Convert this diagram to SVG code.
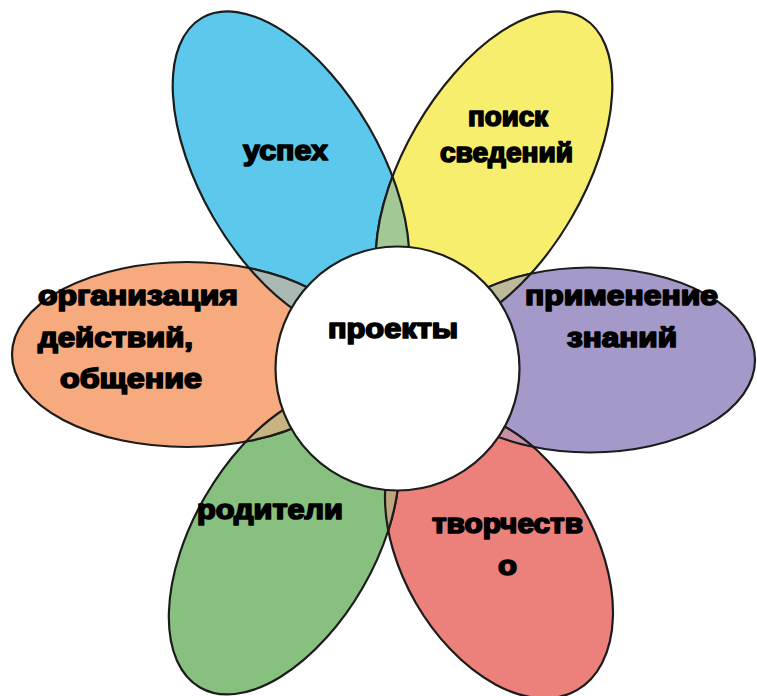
<svg xmlns="http://www.w3.org/2000/svg" xmlns:xlink="http://www.w3.org/1999/xlink" width="757" height="696" viewBox="0 0 757 696">
<style>
  .ol { stroke: #1c1c1c; stroke-width: 2.2; }
  .nofill { fill: none; stroke: #1c1c1c; stroke-width: 2.2; }
  .lbl { font-family: "Liberation Sans", Arial, sans-serif; font-weight: bold; font-size: 27px; fill: #000; stroke: #000; stroke-width: 1.7; stroke-linejoin: round; }
</style>
<defs>
  <ellipse id="e-blue" cx="0" cy="0" rx="178" ry="90" transform="translate(291,172) rotate(60)"/>
  <ellipse id="e-yellow" cx="0" cy="0" rx="178" ry="90" transform="translate(494,172) rotate(-60)"/>
  <ellipse id="e-purple" cx="590" cy="360" rx="165" ry="92.5"/>
  <ellipse id="e-red" cx="0" cy="0" rx="156" ry="96" transform="translate(499,555) rotate(60)"/>
  <ellipse id="e-green" cx="0" cy="0" rx="168" ry="91" transform="translate(284,542) rotate(120)"/>
  <ellipse id="e-orange" cx="187" cy="354.5" rx="175" ry="92.5"/>
  <clipPath id="c-blue"><use xlink:href="#e-blue"/></clipPath>
  <clipPath id="c-yellow"><use xlink:href="#e-yellow"/></clipPath>
  <clipPath id="c-purple"><use xlink:href="#e-purple"/></clipPath>
  <clipPath id="c-red"><use xlink:href="#e-red"/></clipPath>
  <clipPath id="c-green"><use xlink:href="#e-green"/></clipPath>
  <clipPath id="c-orange"><use xlink:href="#e-orange"/></clipPath>
</defs>
<rect width="757" height="696" fill="#ffffff"/>

<g id="petal-uspekh">
  <use xlink:href="#e-blue" class="ol" fill="#5cc9ec"/>
  <text class="lbl" x="243" y="160" textLength="85" lengthAdjust="spacingAndGlyphs">успех</text>
</g>
<g id="petal-poisk">
  <use xlink:href="#e-yellow" class="ol" fill="#f7ee6e"/>
  <text class="lbl" x="468" y="126" textLength="80" lengthAdjust="spacingAndGlyphs">поиск</text>
  <text class="lbl" x="440" y="162" textLength="133" lengthAdjust="spacingAndGlyphs">сведений</text>
</g>
<g id="petal-primenenie">
  <use xlink:href="#e-purple" class="ol" fill="#a499c8"/>
  <text class="lbl" x="525" y="305" textLength="193" lengthAdjust="spacingAndGlyphs">применение</text>
  <text class="lbl" x="567" y="347" textLength="110" lengthAdjust="spacingAndGlyphs">знаний</text>
</g>
<g id="petal-tvorchestvo">
  <use xlink:href="#e-red" class="ol" fill="#ec807b"/>
  <text class="lbl" x="432" y="533" textLength="151" lengthAdjust="spacingAndGlyphs">творчеств</text>
  <text class="lbl" x="498" y="575" textLength="19" lengthAdjust="spacingAndGlyphs">о</text>
</g>
<g id="petal-roditeli">
  <use xlink:href="#e-green" class="ol" fill="#87c07f"/>
  <text class="lbl" x="197" y="519" textLength="146" lengthAdjust="spacingAndGlyphs">родители</text>
</g>
<g id="petal-organizatsiya">
  <use xlink:href="#e-orange" class="ol" fill="#f6aa7d"/>
  <text class="lbl" x="38" y="305" textLength="200" lengthAdjust="spacingAndGlyphs">организация</text>
  <text class="lbl" x="38" y="347" textLength="155" lengthAdjust="spacingAndGlyphs">действий,</text>
  <text class="lbl" x="60" y="388" textLength="142" lengthAdjust="spacingAndGlyphs">общение</text>
</g>

<g id="overlaps">
  <g clip-path="url(#c-blue)"><use xlink:href="#e-yellow" class="ol" fill="#a2c995"/></g>
  <g clip-path="url(#c-yellow)"><use xlink:href="#e-blue" class="nofill"/></g>

  <g clip-path="url(#c-yellow)"><use xlink:href="#e-purple" class="ol" fill="#beb99a"/></g>
  <g clip-path="url(#c-purple)"><use xlink:href="#e-yellow" class="nofill"/></g>

  <g clip-path="url(#c-purple)"><use xlink:href="#e-red" class="ol" fill="#c98fa2"/></g>
  <g clip-path="url(#c-red)"><use xlink:href="#e-purple" class="nofill"/></g>

  <g clip-path="url(#c-red)"><use xlink:href="#e-green" class="ol" fill="#bea67f"/></g>
  <g clip-path="url(#c-green)"><use xlink:href="#e-red" class="nofill"/></g>

  <g clip-path="url(#c-green)"><use xlink:href="#e-orange" class="ol" fill="#c8b483"/></g>
  <g clip-path="url(#c-orange)"><use xlink:href="#e-green" class="nofill"/></g>

  <g clip-path="url(#c-orange)"><use xlink:href="#e-blue" class="ol" fill="#aab9b4"/></g>
  <g clip-path="url(#c-blue)"><use xlink:href="#e-orange" class="nofill"/></g>
</g>

<g id="connectors"></g>

<g id="node-proekty">
  <circle cx="397.5" cy="368.5" r="122" fill="#ffffff" class="ol"/>
  <text class="lbl" x="328" y="338" textLength="130" lengthAdjust="spacingAndGlyphs">проекты</text>
</g>
</svg>
